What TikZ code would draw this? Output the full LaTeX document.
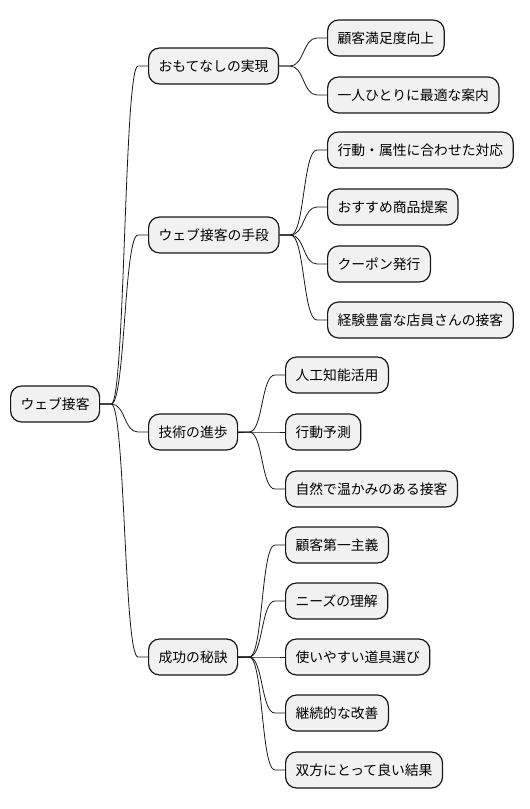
\documentclass[tikz,border=0pt]{standalone}
\usepackage{fontspec}
\setmainfont{Noto Sans CJK JP}
\usetikzlibrary{calc}

\definecolor{borderColour}{HTML}{181818}
\definecolor{fillColour}{HTML}{F1F1F1}
\definecolor{lineColour}{HTML}{181818}

\begin{document}
\begin{tikzpicture}[x=1pt, y=-1pt,
    topic/.style={draw=borderColour, fill=fillColour, line width=1.2pt,
        rounded corners=11pt, minimum height=36pt, inner xsep=10pt,
        anchor=west, font=\fontsize{13.8}{16}\selectfont},
    branch/.style={draw=lineColour, line width=0.8pt}]
    % Fix the page size
    \useasboundingbox (0,0) rectangle (530,809);

    % Root and main topics
    \node[topic] (root) at (10,404) {ウェブ接客};
    \node[topic] (omotenashi) at (148,66) {おもてなしの実現};
    \node[topic] (shudan) at (148,235) {ウェブ接客の手段};
    \node[topic] (gijutsu) at (148,432) {技術の進歩};
    \node[topic] (hiketsu) at (148,657) {成功の秘訣};

    % Leaves
    \foreach \name/\px/\y/\txt in {
        manzoku/327/38/顧客満足度向上,
        annai/327/95/一人ひとりに最適な案内,
        taiou/327/150/行動・属性に合わせた対応,
        teian/327/207/おすすめ商品提案,
        coupon/327/264/クーポン発行,
        tenin/327/320/経験豊富な店員さんの接客,
        ai/285/375/人工知能活用,
        yosoku/285/432/行動予測,
        shizen/285/489/自然で温かみのある接客,
        daiichi/285/545/顧客第一主義,
        needs/285/601/ニーズの理解,
        dougu/285/657/使いやすい道具選び,
        kaizen/285/713/継続的な改善,
        kekka/285/770/双方にとって良い結果}
        \node[topic] (\name) at (\px,\y) {\txt};

    % Connectors
    \foreach \parent/\child in {root/omotenashi, root/shudan, root/gijutsu, root/hiketsu,
        omotenashi/manzoku, omotenashi/annai,
        shudan/taiou, shudan/teian, shudan/coupon, shudan/tenin,
        gijutsu/ai, gijutsu/yosoku, gijutsu/shizen,
        hiketsu/daiichi, hiketsu/needs, hiketsu/dougu, hiketsu/kaizen, hiketsu/kekka}
        \draw[branch] (\parent.east) -- ++(11,0)
            .. controls +(14,0) and +(-14,0) .. ($(\child.west)+(-10,0)$)
            -- (\child.west);
\end{tikzpicture}
\end{document}
